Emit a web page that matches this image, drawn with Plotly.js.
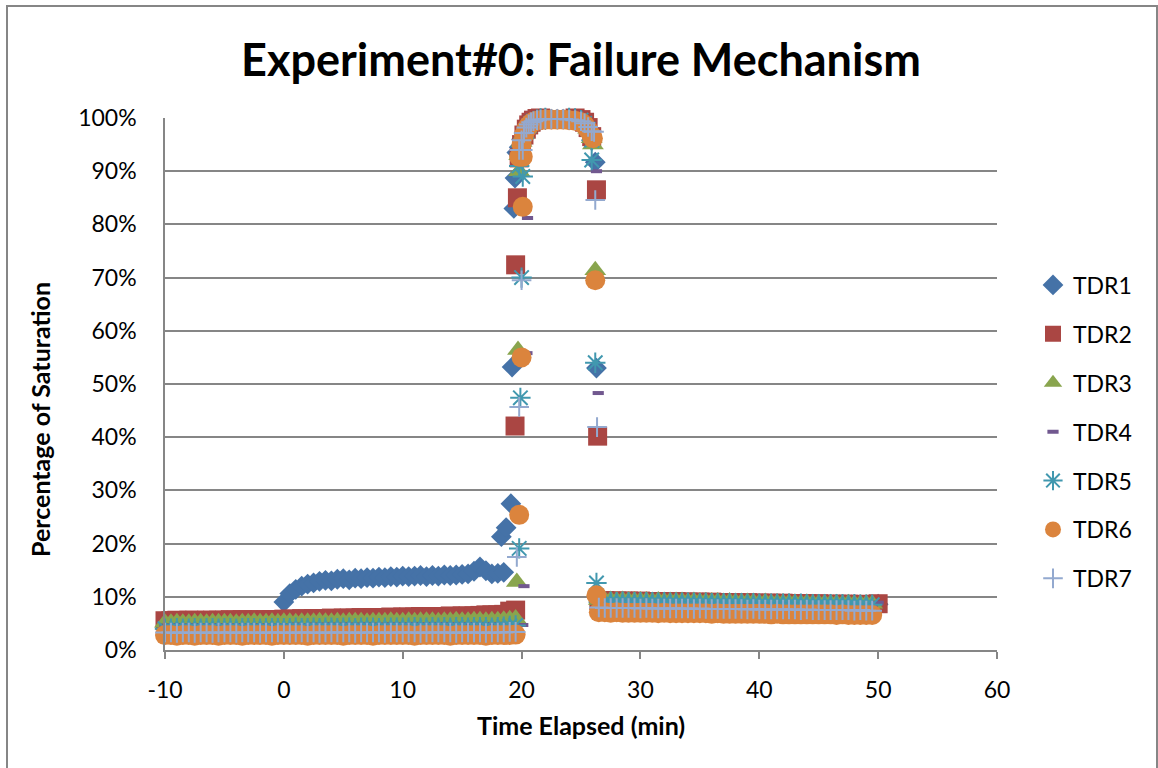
<!DOCTYPE html>
<html>
<head>
<meta charset="utf-8">
<script src="https://cdn.plot.ly/plotly-3.0.1.min.js"></script>
<style>html,body{margin:0;padding:0;background:#fff;}#chart{width:1158px;height:768px;}</style>
</head>
<body>
<div id="chart"></div>
<script>
// ---- shared time axes (minutes) ----
const tPre = [-10,-9.5,-9,-8.5,-8,-7.5,-7,-6.5,-6,-5.5,-5,-4.5,-4,-3.5,-3,-2.5,-2,-1.5,-1,-0.5,
  0,0.5,1,1.5,2,2.5,3,3.5,4,4.5,5,5.5,6,6.5,7,7.5,8,8.5,9,9.5,
  10,10.5,11,11.5,12,12.5,13,13.5,14,14.5,15,15.5,16,16.5,17,17.5,18,18.5,19,19.5];
const tArc = [19.8,20.0,20.2,20.4,20.6,20.8,21.0,21.3,21.6,22.0,22.5,23.0,23.5,24.0,24.5,25.0,25.3,25.6,25.9];
const tPost = [26.5,27,27.5,28,28.5,29,29.5,30,30.5,31,31.5,32,32.5,33,33.5,34,
  34.5,35,35.5,36,36.5,37,37.5,38,38.5,39,39.5,40,40.5,41,41.5,42,
  42.5,43,43.5,44,44.5,45,45.5,46,46.5,47,47.5,48,48.5,49,49.5,50];

const seriesNames = ["TDR1","TDR2","TDR3","TDR4","TDR5","TDR6","TDR7"];

// ---- TDR1 ----
const pre1 = [null,null,null,null,null,null,null,null,null,null,null,null,null,null,null,null,null,null,null,null,
  9.0,10.6,11.4,12.0,12.4,12.6,12.9,13.1,13.0,13.3,13.4,13.2,13.5,13.4,13.6,13.5,13.7,13.6,13.8,13.7,
  13.9,13.8,13.9,14.0,13.8,14.0,13.9,14.1,14.0,14.1,14.2,14.3,14.8,15.6,14.9,14.3,14.4,14.6,null,null];
const tUp1 = [18.3,18.7,19.1,19.2,19.35,19.45,19.6];
const up1 = [21.3,23.0,27.5,53.2,83.0,88.7,93.5];
const arc1 = [94.5,96.0,97.2,98.0,98.6,99.0,99.3,99.5,99.6,99.7,99.8,99.8,99.8,99.7,99.6,99.3,98.8,97.8,95.8];
const tDn1 = [26.2,26.3];
const dn1 = [91.7,53.0];
const post1 = [8.9,8.9,8.9,8.8,8.9,8.8,8.8,8.8,8.8,8.7,8.8,8.7,8.7,8.7,8.7,8.6,
  8.7,8.6,8.6,8.6,8.6,8.6,8.5,8.6,8.5,8.5,8.5,8.5,8.5,8.4,8.5,8.4,
  8.4,8.4,8.4,8.4,8.3,8.4,8.3,8.3,8.3,8.3,8.3,8.2,8.3,8.2,8.2,8.6];

// ---- TDR2 ----
const pre2 = [5.5,5.5,5.6,5.5,5.6,5.6,5.5,5.6,5.6,5.6,5.6,5.7,5.6,5.7,5.7,5.6,5.7,5.7,5.7,5.7,
  5.8,5.8,5.8,5.9,5.8,5.9,5.9,5.9,6.0,5.9,6.0,6.0,6.0,6.1,6.0,6.1,6.1,6.1,6.2,6.1,
  6.2,6.2,6.2,6.3,6.2,6.3,6.3,6.3,6.4,6.3,6.4,6.4,6.4,6.5,6.6,6.6,6.6,6.7,7.3,7.5];
const tUp2 = [19.45,19.5,19.65];
const up2 = [42.1,72.4,85.0];
const arc2 = [92.5,95.0,96.8,97.9,98.7,99.2,99.6,99.9,100.0,100.1,100.2,100.2,100.2,100.1,100.0,99.7,99.2,98.2,96.5];
const tDn2 = [26.3,26.4];
const dn2 = [86.5,40.2];
const post2 = [9.3,9.3,9.2,9.2,9.2,9.2,9.1,9.2,9.1,9.1,9.1,9.1,9.0,9.1,9.0,9.0,
  9.0,9.0,8.9,9.0,8.9,8.9,8.9,8.9,8.8,8.9,8.8,8.8,8.8,8.8,8.7,8.8,
  8.7,8.7,8.7,8.7,8.6,8.7,8.6,8.6,8.6,8.6,8.6,8.5,8.6,8.5,8.5,8.7];

// ---- TDR3 ----
const pre3 = [5.1,5.1,5.2,5.1,5.1,5.2,5.2,5.1,5.2,5.2,5.2,5.2,5.1,5.2,5.2,5.3,5.2,5.2,5.3,5.2,
  5.3,5.3,5.2,5.3,5.3,5.3,5.4,5.3,5.3,5.4,5.3,5.4,5.4,5.4,5.3,5.4,5.4,5.4,5.5,5.4,
  5.4,5.5,5.4,5.5,5.5,5.5,5.4,5.5,5.5,5.6,5.5,5.5,5.6,5.6,5.5,5.6,5.6,5.7,5.8,5.9];
const tUp3 = [19.6,19.7,19.8];
const up3 = [12.8,56.4,90.0];
const arc3 = [93.0,95.5,97.0,98.1,98.8,99.2,99.5,99.8,99.9,100.0,100.1,100.1,100.1,100.0,99.9,99.6,99.0,98.0,96.2];
const tDn3 = [26.0,26.2];
const dn3 = [95.0,71.4];
const post3 = [9.4,9.4,9.4,9.3,9.4,9.3,9.3,9.3,9.3,9.2,9.3,9.2,9.2,9.2,9.2,9.1,
  9.2,9.1,9.1,9.1,9.1,9.0,9.1,9.0,9.0,9.0,9.0,8.9,9.0,8.9,8.9,8.9,
  8.9,8.9,8.8,8.9,8.8,8.8,8.8,8.8,8.8,8.7,8.8,8.7,8.7,8.7,8.7,null];

// ---- TDR4 ----
const pre4 = [4.6,4.6,4.7,4.6,4.6,4.7,4.6,4.7,4.7,4.6,4.7,4.7,4.6,4.7,4.7,4.7,4.6,4.7,4.7,4.7,
  4.7,4.7,4.8,4.7,4.7,4.8,4.7,4.8,4.8,4.7,4.8,4.8,4.7,4.8,4.8,4.8,4.7,4.8,4.8,4.8,
  4.8,4.8,4.9,4.8,4.8,4.9,4.8,4.9,4.8,4.9,4.9,4.8,4.9,4.9,4.9,4.8,4.9,4.9,4.8,4.7];
const tUp4 = [20.1,20.2,20.45,20.5];
const up4 = [4.7,12.0,55.8,81.2];
const arc4 = [92.0,94.5,96.5,97.8,98.6,99.1,99.4,99.7,99.9,100.0,100.0,100.1,100.0,100.0,99.8,99.5,99.0,97.8,95.5];
const tDn4 = [26.3,26.45];
const dn4 = [90.0,48.3];
const post4 = [9.0,9.0,9.0,8.9,9.0,8.9,8.9,8.9,8.9,8.9,8.8,8.9,8.8,8.8,8.8,8.8,
  8.8,8.7,8.8,8.7,8.7,8.7,8.7,8.7,8.7,8.6,8.7,8.6,8.6,8.6,8.6,8.6,
  8.6,8.5,8.6,8.5,8.5,8.5,8.5,8.5,8.5,8.5,8.4,8.5,8.4,8.4,8.4,8.9];

// ---- TDR5 ----
const pre5 = [4.0,4.0,4.1,4.0,4.0,4.1,4.0,4.1,4.1,4.0,4.1,4.1,4.0,4.1,4.1,4.1,4.0,4.1,4.1,4.1,
  4.1,4.1,4.2,4.1,4.1,4.2,4.1,4.2,4.2,4.1,4.2,4.2,4.1,4.2,4.2,4.2,4.1,4.2,4.2,4.2,
  4.2,4.2,4.3,4.2,4.2,4.3,4.2,4.3,4.2,4.3,4.3,4.2,4.3,4.3,4.3,4.2,4.3,4.4,4.5,4.6];
const tUp5 = [19.8,19.9,20.0,20.1];
const up5 = [19.1,47.4,70.0,89.0];
const arc5 = [91.0,94.0,96.2,97.6,98.5,99.0,99.4,99.7,99.9,100.0,100.1,100.1,100.1,100.0,99.9,99.6,99.0,97.9,95.8];
const tDn5 = [25.9,26.2,26.3];
const dn5 = [92.1,54.0,12.6];
const post5 = [9.1,9.1,9.1,9.0,9.1,9.0,9.0,9.0,9.0,9.0,8.9,9.0,8.9,8.9,8.9,8.9,
  8.9,8.8,8.9,8.8,8.8,8.8,8.8,8.8,8.8,8.7,8.8,8.7,8.7,8.7,8.7,8.7,
  8.7,8.6,8.7,8.6,8.6,8.6,8.6,8.6,8.6,8.6,8.5,8.6,8.5,8.5,8.5,null];

// ---- TDR6 ----
const pre6 = [2.8,2.8,2.7,2.8,2.8,2.7,2.8,2.8,2.8,2.7,2.8,2.8,2.8,2.7,2.8,2.8,2.8,2.8,2.7,2.8,
  2.8,2.8,2.8,2.8,2.7,2.8,2.8,2.8,2.8,2.8,2.7,2.8,2.8,2.8,2.8,2.7,2.8,2.8,2.8,2.8,
  2.8,2.8,2.7,2.8,2.8,2.8,2.8,2.8,2.7,2.8,2.8,2.8,2.8,2.8,2.7,2.8,2.8,2.8,2.8,2.9];
const tUp6 = [19.8,20.0,20.1,20.1];
const up6 = [25.4,55.0,83.3,92.7];
const arc6 = [92.7,95.0,96.8,97.9,98.6,99.0,99.3,99.5,99.6,99.7,99.7,99.7,99.7,99.6,99.5,99.2,98.7,97.8,96.6];
const tDn6 = [26.0,26.2,26.3];
const dn6 = [96.2,69.5,10.3];
const post6 = [7.1,7.1,7.0,7.1,7.0,7.0,7.0,7.0,7.0,7.0,6.9,7.0,6.9,6.9,6.9,6.9,
  6.9,6.9,6.9,6.8,6.9,6.8,6.8,6.8,6.8,6.8,6.8,6.8,6.8,6.7,6.8,6.7,
  6.7,6.7,6.7,6.7,6.7,6.7,6.7,6.7,6.6,6.7,6.6,6.6,6.6,6.6,6.6,null];

// ---- TDR7 ----
const pre7 = [3.3,3.3,3.2,3.3,3.3,3.2,3.3,3.3,3.2,3.3,3.3,3.3,3.2,3.3,3.3,3.3,3.2,3.3,3.3,3.3,
  3.3,3.2,3.3,3.3,3.3,3.3,3.2,3.3,3.3,3.3,3.3,3.3,3.2,3.3,3.3,3.3,3.3,3.2,3.3,3.3,
  3.3,3.3,3.3,3.2,3.3,3.3,3.3,3.3,3.3,3.2,3.3,3.3,3.3,3.3,3.2,3.3,3.3,3.3,3.4,3.4];
const tUp7 = [19.6,19.8,20.0,20.1];
const up7 = [17.5,45.7,69.5,94.0];
const arc7 = [94.0,95.8,97.2,98.2,98.8,99.2,99.4,99.6,99.7,99.8,99.8,99.8,99.8,99.7,99.6,99.4,99.0,98.3,97.5];
const tDn7 = [26.1,26.2,26.35];
const dn7 = [97.4,84.6,41.9];
const post7 = [8.0,7.9,7.9,7.9,7.9,7.9,7.9,7.8,7.9,7.8,7.8,7.8,7.8,7.8,7.8,7.8,
  7.7,7.8,7.7,7.7,7.7,7.7,7.7,7.7,7.7,7.6,7.7,7.6,7.6,7.6,7.6,7.6,
  7.6,7.6,7.5,7.6,7.5,7.5,7.5,7.5,7.5,7.5,7.5,7.4,7.5,7.4,7.4,null];

const xTickVals = [-10,0,10,20,30,40,50,60];
const yTickVals = [0,10,20,30,40,50,60,70,80,90,100];

// ---- styles ----
const colors = ["#4572A7","#AA4643","#89A54E","#71588F","#4198AF","#DB843D","#93A9CF"];
const markers = [
  {symbol:"diamond", size:16},
  {symbol:"square", size:19},
  {symbol:"triangle-up", size:19},
  {symbol:"line-ew-open", size:8, lw:4},
  {symbol:"asterisk-open", size:17, lw:2},
  {symbol:"circle", size:20},
  {symbol:"cross-thin-open", size:14, lw:2}
];
const parts = [
  [pre1,tUp1,up1,arc1,tDn1,dn1,post1],
  [pre2,tUp2,up2,arc2,tDn2,dn2,post2],
  [pre3,tUp3,up3,arc3,tDn3,dn3,post3],
  [pre4,tUp4,up4,arc4,tDn4,dn4,post4],
  [pre5,tUp5,up5,arc5,tDn5,dn5,post5],
  [pre6,tUp6,up6,arc6,tDn6,dn6,post6],
  [pre7,tUp7,up7,arc7,tDn7,dn7,post7]
];

const FONT = "Lato, 'Open Sans', sans-serif";
const traces = seriesNames.map((name, i) => {
  const [pre, tu, u, arc, td, d, post] = parts[i];
  const m = markers[i];
  return {
    type: "scatter", mode: "markers", name: name,
    legendgroup: name,
    x: [].concat(tPre, tu, tArc, td, tPost),
    y: [].concat(pre, u, arc, d, post),
    cliponaxis: false,
    marker: {
      symbol: m.symbol, size: m.size, color: colors[i],
      line: {color: colors[i], width: m.lw || 0}
    },
    hoverinfo: "x+y+name"
  };
});

// pixel helpers for paper coordinates (plot area 165..997 x 118..650)
const L = 165, R = 161, T = 118, B = 118, W = 1158 - L - R, H = 768 - T - B;
const px = v => (v - L) / W;
const py = v => (768 - B - v) / H;

const layout = {
  width: 1158, height: 768,
  margin: {l: L, r: R, t: T, b: B, pad: 0},
  paper_bgcolor: "#ffffff", plot_bgcolor: "#ffffff",
  font: {family: FONT, color: "#000000"},
  title: {
    text: "Experiment#0: Failure Mechanism",
    font: {family: FONT, size: 45, color: "#000000", weight: "bold"},
    x: 0.5, xref: "paper", xanchor: "center",
    y: 1 - 60/768, yref: "container", yanchor: "middle"
  },
  xaxis: {
    range: [-10, 60], tickvals: xTickVals, ticktext: xTickVals.map(String),
    showgrid: false, zeroline: false,
    showline: true, linecolor: "#868686", linewidth: 1.5,
    ticks: "outside", ticklen: 7, tickwidth: 1.5, tickcolor: "#868686",
    ticklabelstandoff: 12,
    tickfont: {family: FONT, size: 23, color: "#000000"},
    fixedrange: true
  },
  yaxis: {
    range: [0, 100], tickvals: yTickVals, ticktext: yTickVals.map(v => v + "%"),
    showgrid: true, gridcolor: "#868686", gridwidth: 1.5,
    zeroline: false, showline: true, linecolor: "#868686", linewidth: 1.5,
    ticks: "", ticklabelstandoff: 22,
    tickfont: {family: FONT, size: 23, color: "#000000"},
    fixedrange: true
  },
  showlegend: true,
  legend: {
    x: px(1033), xanchor: "left", y: py(432), yanchor: "middle",
    font: {family: FONT, size: 23, color: "#000000"},
    bgcolor: "rgba(0,0,0,0)", borderwidth: 0,
    tracegroupgap: 16, itemwidth: 30, itemclick: false
  },
  annotations: [
    {text: "Percentage of Saturation", textangle: -90, showarrow: false,
     xref: "paper", yref: "paper", x: px(40), y: py(420), xanchor: "center", yanchor: "middle",
     font: {family: FONT, size: 25, color: "#000000", weight: "bold"}},
    {text: "Time Elapsed (min)", showarrow: false,
     xref: "paper", yref: "paper", x: 0.5, y: py(725), xanchor: "center", yanchor: "middle",
     font: {family: FONT, size: 25, color: "#000000", weight: "bold"}}
  ],
  shapes: [
    {type: "rect", xref: "paper", yref: "paper", x0: px(7), x1: px(1157), y0: py(772), y1: py(6),
     line: {color: "#868686", width: 2}, fillcolor: "rgba(0,0,0,0)", layer: "below"}
  ]
};

Plotly.newPlot("chart", traces, layout, {displayModeBar: false, staticPlot: false});
</script>
</body>
</html>
